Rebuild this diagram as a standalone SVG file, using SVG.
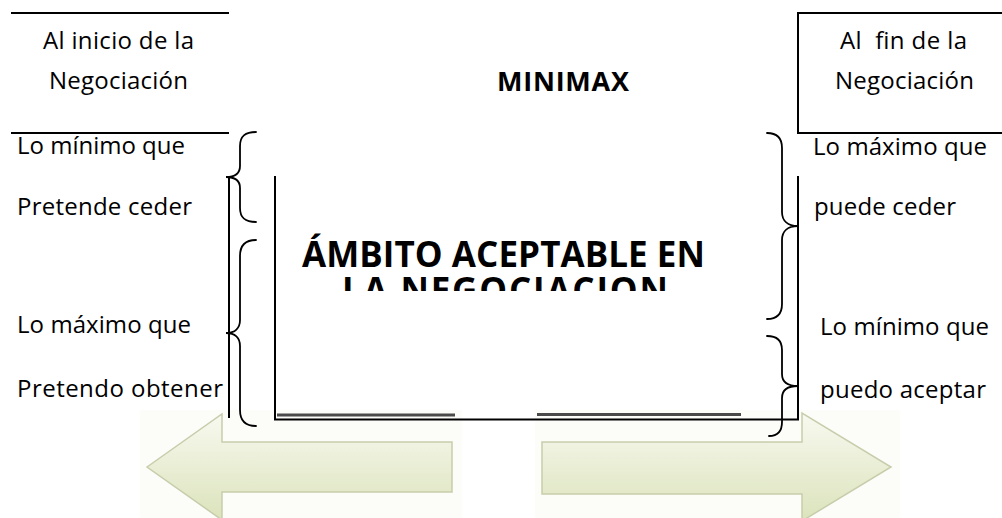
<svg xmlns="http://www.w3.org/2000/svg" width="1002" height="518" viewBox="0 0 1002 518">
<style>
.t{font-family:"Open Sans","Liberation Sans",sans-serif;font-size:24px;fill:#000}
.m{text-anchor:middle}
.b{font-weight:bold}
.ln{stroke:#000;stroke-width:2;fill:none}
.br{stroke:#000;stroke-width:1.8;fill:none;stroke-linecap:round}
.arw{fill:url(#ag);stroke:#c7cdab;stroke-width:1.5}
.bg{fill:#fcfcf9}
</style>
<defs>
<linearGradient id="ag" x1="0" y1="0" x2="0" y2="1">
<stop offset="0" stop-color="#f8f9f0"/>
<stop offset="1" stop-color="#dbe3bb"/>
</linearGradient>
<clipPath id="clipBox"><rect x="277" y="180" width="519" height="111"/></clipPath>
</defs>
<rect width="1002" height="518" fill="#fff"/>

<g id="arrow-left">
<rect class="bg" x="140" y="410" width="322" height="108"/>
<polygon class="arw" points="147,467 222,414 222,442 452,442 452,492 222,492 222,520"/>
</g>
<g id="arrow-right">
<rect class="bg" x="535" y="410" width="365" height="108"/>
<polygon class="arw" points="542,442 802,442 802,413 891,467 802,521 802,494 542,494"/>
</g>

<g id="inicio-header">
<line class="ln" x1="11" y1="13" x2="229" y2="13"/>
<line class="ln" x1="11" y1="133" x2="229" y2="133"/>
<text class="t m" x="118.5" y="49" textLength="151">Al inicio de la</text>
<text class="t m" x="118.5" y="89" textLength="139">Negociación</text>
</g>

<g id="fin-header">
<rect class="ln" x="798" y="13" width="210" height="120"/>
<text class="t m" x="903.5" y="49" textLength="127" style="white-space:pre">Al  fin de la</text>
<text class="t m" x="904.5" y="89" textLength="139">Negociación</text>
</g>

<g id="minimax-title">
<text class="t m b" x="563" y="91" style="font-size:27px" textLength="132">MINIMAX</text>
</g>

<g id="ambito-box">
<polyline class="ln" points="275,176 275,419.5 798,419.5 798,176"/>
<line x1="277" y1="415" x2="455" y2="415" stroke="#4a4a4a" stroke-width="3"/>
<line x1="537" y1="414.5" x2="741" y2="414.5" stroke="#4a4a4a" stroke-width="3"/>
<g clip-path="url(#clipBox)">
<text class="t b" x="302" y="267" style="font-size:35px" textLength="403">ÁMBITO ACEPTABLE EN</text>
<text class="t b" x="342" y="303" style="font-size:35px" textLength="326">LA NEGOCIACION</text>
</g>
</g>

<g id="left-labels">
<text class="t" x="17" y="154" textLength="168">Lo mínimo que</text>
<text class="t" x="17" y="215" textLength="175">Pretende ceder</text>
<text class="t" x="17" y="333" textLength="174">Lo máximo que</text>
<text class="t" x="17" y="397" textLength="206">Pretendo obtener</text>
</g>

<g id="right-labels">
<text class="t" x="813" y="155" textLength="174">Lo máximo que</text>
<text class="t" x="814" y="215" textLength="142">puede ceder</text>
<text class="t" x="820" y="335" textLength="169">Lo mínimo que</text>
<text class="t" x="820" y="398" textLength="166">puedo aceptar</text>
</g>

<g id="connectors">
<line class="ln" x1="229" y1="177" x2="229" y2="418"/>
<path class="br" d="M256,132 C245,132 240,136 240,146 L240,166 C240,173 235,177 226,177 C235,177 240,181 240,188 L240,208 C240,218 245,222 256,222"/>
<path class="br" d="M256,240 C245,240 240,246 240,256 L240,320 C240,328 235,333 226,333 C235,333 240,338 240,346 L240,410 C240,420 245,426 256,426"/>
<path class="br" d="M767,133 C777,133 782,138 782,148 L782,212 C782,221 788,226 798,226 C788,226 782,231 782,240 L782,304 C782,314 777,319 767,319"/>
<path class="br" d="M767,336 C777,336 782,341 782,350 L782,374 C782,382 788,386 798,386 C788,386 782,390 782,398 L782,422 C782,431 778,436 769,436"/>
</g>
</svg>
